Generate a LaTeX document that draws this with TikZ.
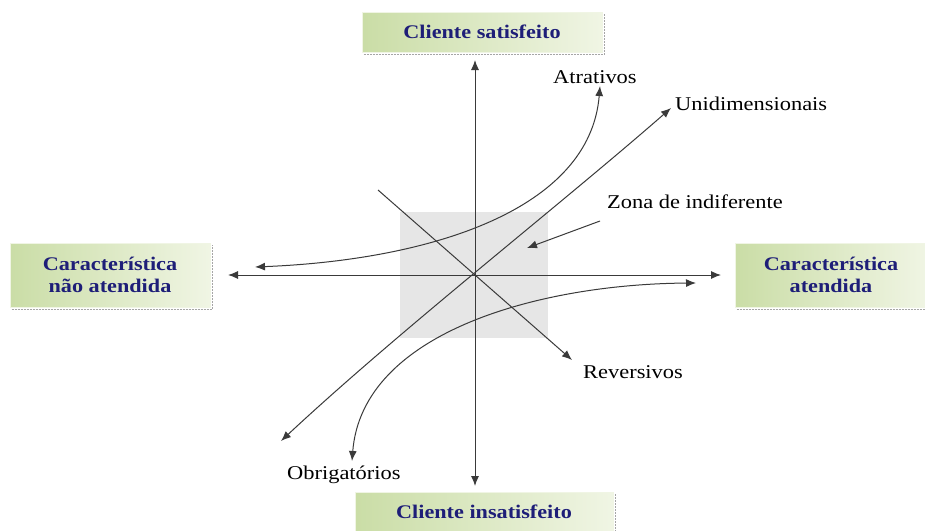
\documentclass[tikz,border=0pt]{standalone}
\usepackage{fontspec}
\setmainfont{Liberation Serif}[FakeStretch=1.15]
\usetikzlibrary{arrows.meta}
\definecolor{navy}{HTML}{1E1E78}
\definecolor{gleft}{HTML}{CADDA6}
\definecolor{gright}{HTML}{F0F5E4}
\definecolor{zone}{HTML}{E6E6E6}
\definecolor{ln}{HTML}{3A3A3A}
\tikzset{
  box/.style={draw=gright, line width=0.6pt, left color=gleft, right color=gright, inner sep=0pt,
    font=\fontsize{19.3}{22}\selectfont\bfseries, text=navy, align=center},
  lbl/.style={font=\fontsize{19.5}{22}\selectfont, text=black, inner sep=1pt},
  conn/.style={draw=ln, line width=1pt, -{Latex[length=10pt,width=8pt]}},
  both/.style={draw=ln, line width=1pt, {Latex[length=10pt,width=8pt]}-{Latex[length=10pt,width=8pt]}},
  shadowline/.style={draw=gray!70, line width=1.2pt, dash pattern=on 2pt off 1pt}
}
\begin{document}
\begin{tikzpicture}[x=1pt,y=-1pt]
\path[use as bounding box, fill=white] (0,0) rectangle (925,530);
% indifference zone
\fill[zone] (400,212) rectangle (548,338);
% boxes
\node[box, minimum width=240pt, minimum height=40pt] (top) at (482,32) {Cliente satisfeito};
\node[box, minimum width=200pt, minimum height=64pt] (left) at (110,275) {Característica\\não atendida};
\node[box, minimum width=192pt, minimum height=64pt] (right) at (831,275) {Característica\\atendida};
\node[box, minimum width=258pt, minimum height=40pt] (bottom) at (484,512) {Cliente insatisfeito};
\foreach \b in {top,left,right,bottom}{
  \draw[shadowline] ([xshift=2pt,yshift=-2pt]\b.south west) -- ([xshift=2pt,yshift=-2pt]\b.south east) -- ([xshift=2pt,yshift=-2pt]\b.north east);
}
% axes
\coordinate (o) at (475,275);
\coordinate (yt) at (475,60);
\coordinate (yb) at (475,486);
\coordinate (xl) at (228,275);
\coordinate (xr) at (721,275);
\draw[both] (yb) -- (yt);
\draw[both] (xl) -- (xr);
% labels
\node[lbl, anchor=west] (atr) at (552,77) {Atrativos};
\node[lbl, anchor=west] (uni) at (674,104) {Unidimensionais};
\node[lbl, anchor=west] (zon) at (606,202) {Zona de indiferente};
\node[lbl, anchor=west] (rev) at (582,372) {Reversivos};
\node[lbl, anchor=west] (obr) at (286,475) {Obrigatórios};
% curves
\coordinate (a1) at (255,267);
\coordinate (a2) at (600,86);
\draw[both] (a1) .. controls (430,260) and (590,210) .. (a2);
\coordinate (u1) at (281,441);
\coordinate (u2) at (671,108);
\draw[both] (u1) .. controls (400,330) and (560,205) .. (u2);
\coordinate (r1) at (378,190);
\coordinate (r2) at (572,360);
\draw[conn] (r1) -- (r2);
\coordinate (b1) at (696,283);
\coordinate (b2) at (352,461);
\draw[both] (b1) .. controls (540,284) and (362,332) .. (b2);
\coordinate (z1) at (600,221);
\coordinate (z2) at (527,248);
\draw[conn] (z1) -- (z2);
\end{tikzpicture}
\end{document}
